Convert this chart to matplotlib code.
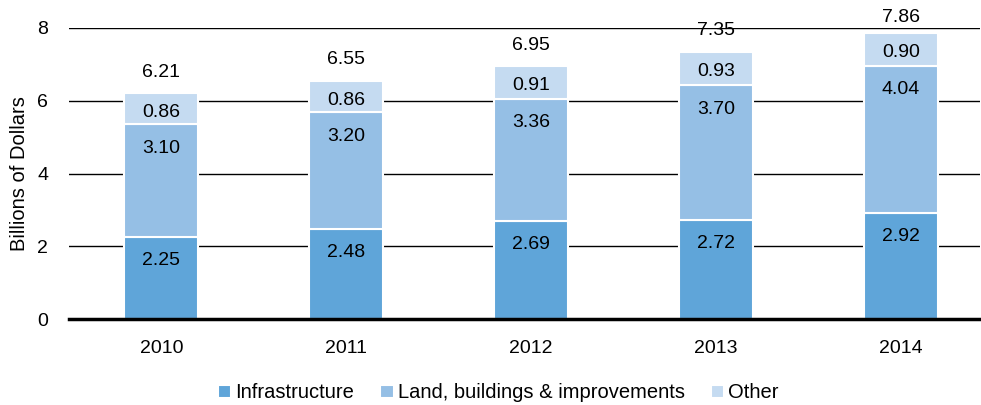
import matplotlib
matplotlib.use("Agg")
import matplotlib.pyplot as plt
import numpy as np

plt.rcParams["font.family"] = ["Liberation Sans", "DejaVu Sans"]

years = ["2010", "2011", "2012", "2013", "2014"]
infrastructure = [2.25, 2.48, 2.69, 2.72, 2.92]
land = [3.10, 3.20, 3.36, 3.70, 4.04]
other = [0.86, 0.86, 0.91, 0.93, 0.90]
totals = [6.21, 6.55, 6.95, 7.35, 7.86]

series = [
    ("Infrastructure", infrastructure, "#5FA5D9"),
    ("Land, buildings & improvements", land, "#95BFE5"),
    ("Other", other, "#C5DBF1"),
]

FS = 14

fig = plt.figure(figsize=(9.81, 4.05), dpi=100)
ax = fig.add_axes([0.0703, 0.212, 0.929, 0.719])

x = np.arange(len(years))
bottom = np.zeros(len(years))
for name, vals, col in series:
    vals = np.array(vals)
    ax.bar(x, vals, width=0.4, bottom=bottom, color=col,
           edgecolor="white", linewidth=1.5, label=name, zorder=3)
    off = -14 if name == "Other" else -17
    for xi, b, v in zip(x, bottom, vals):
        ax.annotate(f"{v:.2f}", (xi, b + v), xytext=(0, off),
                    textcoords="offset points", ha="center", va="center",
                    fontsize=FS, zorder=4)
    bottom += vals

# totals above the stacks; the top one is kept inside the figure
for xi, t in zip(x, totals):
    ax.annotate(f"{t:.2f}", (xi, t), xytext=(0, 15 if t < 7.6 else 11),
                textcoords="offset points", ha="center", va="center",
                fontsize=FS, zorder=4)

ax.set_ylim(0, 8)
ax.set_xlim(-0.5, 4.43)
ax.set_yticks([0, 2, 4, 6, 8])
ax.yaxis.grid(True, color="black", linewidth=1.0, zorder=1)
ax.set_axisbelow(True)
ax.axhline(0, color="black", linewidth=2.5, zorder=5, clip_on=False)
for s in ax.spines.values():
    s.set_visible(False)
ax.tick_params(axis="both", length=0, labelsize=FS)
ax.tick_params(axis="x", pad=15)
ax.tick_params(axis="y", pad=15)
ax.set_xticks(x)
ax.set_xticklabels(years)
ax.set_ylabel("Billions of Dollars", fontsize=14.5, labelpad=6)

fig.legend(loc="center", bbox_to_anchor=(0.508, 0.03), ncol=3, frameon=False,
           fontsize=14.5, handlelength=0.65, handleheight=0.65,
           handletextpad=0.2, columnspacing=1.3)

fig.savefig("out.png", dpi=100)
